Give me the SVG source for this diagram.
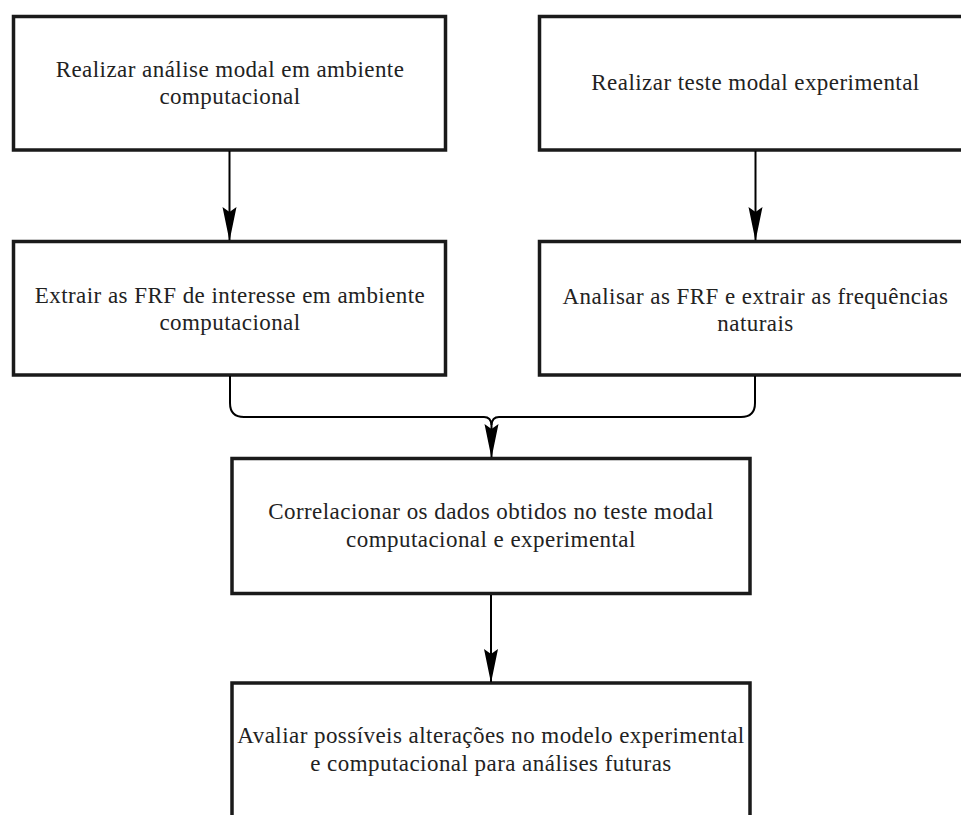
<svg xmlns="http://www.w3.org/2000/svg" width="961" height="815" viewBox="0 0 961 815">
  <style>
    .box { fill: #ffffff; stroke: #1a1a1a; stroke-width: 3.5; }
    .label { font-family: "Liberation Serif", "Times New Roman", serif; font-size: 23px; letter-spacing: 0.45px; fill: #222222; text-anchor: middle; }
    .wire { fill: none; stroke: #000000; stroke-width: 2; }
  </style>
  <defs>
    <marker id="head" viewBox="0 0 34 16" refX="33" refY="8" markerWidth="34" markerHeight="16" markerUnits="userSpaceOnUse" orient="auto">
      <path d="M34 8 L0 1 L5 8 L0 15 Z" fill="#000000"/>
    </marker>
  </defs>

  <rect width="961" height="815" fill="#ffffff"/>

  <g id="n1">
    <rect class="box" x="13.5" y="16.5" width="432" height="133.5"/>
    <text class="label" x="230" y="77">Realizar análise modal em ambiente</text>
    <text class="label" x="230" y="104">computacional</text>
  </g>

  <g id="n2">
    <rect class="box" x="539.5" y="16.5" width="432" height="133.5"/>
    <text class="label" x="755.5" y="90">Realizar teste modal experimental</text>
  </g>

  <g id="n3">
    <rect class="box" x="13.5" y="241.5" width="432" height="133.5"/>
    <text class="label" x="230" y="303">Extrair as FRF de interesse em ambiente</text>
    <text class="label" x="230" y="330">computacional</text>
  </g>

  <g id="n4">
    <rect class="box" x="539.5" y="241.5" width="432" height="133.5"/>
    <text class="label" x="755.5" y="304">Analisar as FRF e extrair as frequências</text>
    <text class="label" x="755.5" y="331">naturais</text>
  </g>

  <g id="n5">
    <rect class="box" x="232" y="458.5" width="518" height="135"/>
    <text class="label" x="491" y="519">Correlacionar os dados obtidos no teste modal</text>
    <text class="label" x="491" y="547">computacional e experimental</text>
  </g>

  <g id="n6">
    <rect class="box" x="232" y="683" width="518" height="140"/>
    <text class="label" x="491" y="743">Avaliar possíveis alterações no modelo experimental</text>
    <text class="label" x="491" y="771">e computacional para análises futuras</text>
  </g>

  <g id="connectors">
    <line class="wire" x1="229.5" y1="151" x2="229.5" y2="240" marker-end="url(#head)"/>
    <line class="wire" x1="755.5" y1="151" x2="755.5" y2="240" marker-end="url(#head)"/>
    <!-- brace joining both result boxes -->
    <path class="wire" d="M230 376 V403 Q230 417 244 417 H484 Q491 417 491.5 425"/>
    <path class="wire" d="M755 376 V403 Q755 417 741 417 H499 Q492 417 491.5 425"/>
    <line class="wire" x1="491.5" y1="425" x2="491.5" y2="457" marker-end="url(#head)"/>
    <line class="wire" x1="491" y1="595" x2="491" y2="682" marker-end="url(#head)"/>
  </g>
</svg>
